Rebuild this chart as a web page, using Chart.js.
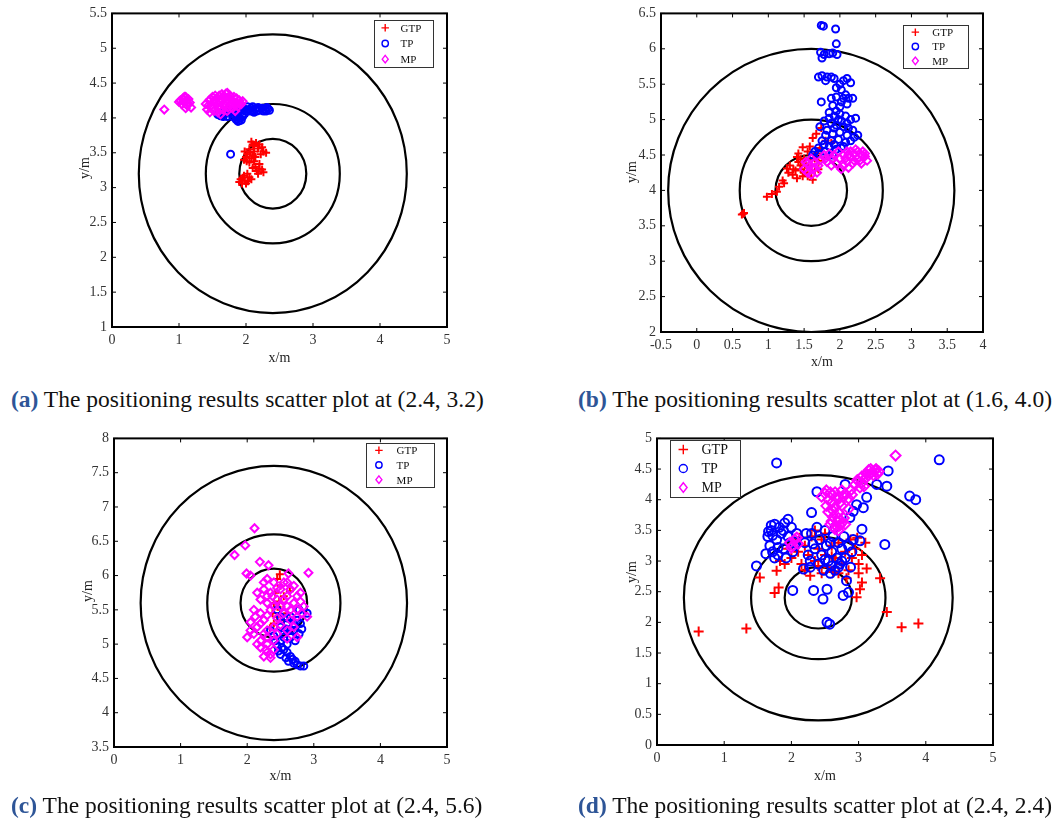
<!DOCTYPE html>
<html>
<head>
<meta charset="utf-8">
<script src="https://cdn.jsdelivr.net/npm/chart.js@4.4.1/dist/chart.umd.min.js"></script>
<style>
body{margin:0;background:#fff;width:1056px;height:830px;position:relative;overflow:hidden;font-family:"Liberation Serif",serif}
canvas{position:absolute}
.cap{position:absolute;font-size:23.5px;color:#111;white-space:nowrap;line-height:28px}
.cap b{color:#2e5597}
</style>
</head>
<body>
<canvas id="pa" width="420" height="375" style="left:40px;top:0px"></canvas>
<canvas id="pb" width="420" height="375" style="left:590px;top:0px"></canvas>
<canvas id="pc" width="420" height="370" style="left:40px;top:425px"></canvas>
<canvas id="pd" width="420" height="370" style="left:590px;top:425px"></canvas>
<div class="cap" style="left:11px;top:385px"><b>(a)</b> The positioning results scatter plot at (2.4, 3.2)</div>
<div class="cap" style="left:578px;top:385px"><b>(b)</b> The positioning results scatter plot at (1.6, 4.0)</div>
<div class="cap" style="left:11px;top:791px"><b>(c)</b> The positioning results scatter plot at (2.4, 5.6)</div>
<div class="cap" style="left:578px;top:791px"><b>(d)</b> The positioning results scatter plot at (2.4, 2.4)</div>
<script>
// ring radii round each test point (m)
const radii = [0.5, 1, 2];

// (a) test point (2.4, 3.2)
const aGTP = [[2.08,3.66],[2.15,3.64],[2.2,3.62],[2.12,3.6],[2.24,3.58],[2.05,3.55],[1.98,3.52],[2.02,3.48],[2.26,3.52],[2.3,3.5],
  [2.22,3.48],[2.0,3.44],[2.08,3.42],[1.97,3.4],[2.12,3.38],[2.05,3.36],[2.14,3.3],[2.2,3.27],[2.16,3.24],[2.24,3.26],
  [2.02,3.2],[1.97,3.17],[2.05,3.15],[1.92,3.12],[1.98,3.1],[1.9,3.08],[2.03,3.09],[1.94,3.06],[2.18,3.2],[2.1,3.46],
  [2.1,3.62],[2.18,3.56],[2.06,3.5],[2.14,3.44],[2.01,3.38],[2.2,3.34],[2.1,3.28],[2.26,3.22],[1.95,3.14],[2.0,3.06],
  [2.08,3.12],[2.12,3.52]];
const aTP = [[1.58,4.05],[1.62,4.03],[1.68,4.06],[1.72,4.02],[1.78,4.08],[1.82,4.05],[1.85,3.98],[1.88,3.95],[1.9,4.0],[1.93,3.97],
  [1.95,4.02],[1.98,4.06],[2.0,4.1],[2.04,4.12],[2.08,4.14],[2.1,4.1],[2.14,4.13],[2.18,4.15],[2.2,4.11],[2.24,4.14],
  [2.28,4.12],[2.33,4.13],[1.96,4.14],[2.02,4.16],[1.86,4.1],[1.75,4.12],[2.12,4.08],[1.92,4.08],[2.16,4.1],[2.3,4.1],
  [1.6,4.07],[1.66,4.02],[1.7,4.08],[1.8,4.02],[1.84,4.07],[1.9,3.96],[1.94,4.04],[1.98,4.12],[2.06,4.1],[2.1,4.16],
  [2.2,4.14],[2.26,4.1],[2.31,4.15],[2.35,4.11],[1.88,4.02],[1.77,3.48]];
const aMP = [[0.78,4.12],[1.02,4.25],[1.06,4.28],[1.1,4.3],[1.14,4.27],[1.08,4.22],[1.04,4.2],[1.12,4.18],[1.16,4.22],[1.18,4.15],
  [1.1,4.14],[1.06,4.26],[1.4,4.2],[1.42,4.12],[1.45,4.25],[1.48,4.18],[1.5,4.3],[1.52,4.1],[1.55,4.22],[1.58,4.15],
  [1.6,4.32],[1.62,4.05],[1.65,4.25],[1.68,4.18],[1.7,4.35],[1.72,4.1],[1.75,4.28],[1.78,4.2],[1.8,4.14],[1.82,4.3],
  [1.85,4.22],[1.88,4.16],[1.9,4.25],[1.93,4.2],[1.62,4.22],[1.56,4.28],[1.66,4.12],[1.74,4.24],[1.46,4.08],[1.84,4.1],
  [1.69,4.3],[1.0,4.23],[1.08,4.3],[1.14,4.2],[1.44,4.18],[1.47,4.27],[1.5,4.15],[1.53,4.25],[1.57,4.2],[1.6,4.12],
  [1.63,4.28],[1.67,4.2],[1.7,4.24],[1.73,4.15],[1.76,4.32],[1.79,4.25],[1.83,4.18],[1.86,4.28],[1.9,4.2],[1.95,4.24],
  [1.72,4.36],[1.64,4.34],[1.58,4.08],[1.54,4.32]];

// (b) test point (1.6, 4.0)
const bGTP = [[0.65,3.67],[0.66,3.68],[0.63,3.66],[0.98,3.91],[1.05,3.95],[1.12,3.98],[1.15,4.05],[1.2,4.14],[1.22,4.1],[1.26,4.31],
  [1.28,4.25],[1.35,4.3],[1.4,4.47],[1.45,4.44],[1.48,4.61],[1.55,4.55],[1.62,4.74],[1.67,4.8],[1.74,4.88],[1.88,4.67],
  [1.34,4.22],[1.4,4.17],[1.45,4.3],[1.5,4.25],[1.55,4.2],[1.6,4.35],[1.65,4.28],[1.7,4.42],[1.58,4.45],[1.52,4.38],
  [1.48,4.2],[1.68,4.52],[1.72,4.6],[1.8,4.7],[1.42,4.4],[1.62,4.15],[1.45,4.35],[1.5,4.45],[1.55,4.32],[1.6,4.25],
  [1.65,4.45],[1.7,4.3],[1.38,4.28],[1.42,4.52],[1.58,4.62],[1.3,4.35]];
const bTP = [[1.74,6.33],[1.77,6.32],[1.94,6.28],[1.95,6.07],[1.73,5.95],[1.78,5.92],[1.85,5.93],[1.9,5.94],[1.96,5.92],[1.75,5.87],
  [1.7,5.6],[1.75,5.62],[1.82,5.6],[1.88,5.6],[1.92,5.58],[2.05,5.55],[2.15,5.52],[1.95,5.45],[2.02,5.42],[1.74,5.25],
  [1.88,5.3],[1.95,5.32],[2.05,5.3],[2.12,5.3],[1.9,5.2],[2.0,5.18],[2.1,5.22],[1.85,5.1],[1.92,5.05],[2.0,5.08],
  [2.08,5.05],[2.15,5.0],[2.22,5.02],[1.78,4.98],[1.88,4.95],[1.95,4.92],[2.05,4.9],[2.12,4.88],[1.72,4.9],[1.82,4.85],
  [1.9,4.8],[2.0,4.82],[2.1,4.78],[2.2,4.75],[1.98,4.72],[2.08,4.68],[1.75,4.7],[1.85,4.62],[1.7,4.6],[1.65,4.55],
  [1.95,4.58],[2.02,4.6],[2.25,4.78],[1.78,4.65],[1.88,4.7],[1.92,4.88],[2.02,4.98],[2.1,4.95],[2.18,4.85],[1.8,4.78],
  [1.98,5.0],[2.15,4.7],[2.05,4.62],[1.92,4.65],[1.85,5.02],[1.95,5.12],[2.02,5.25],[2.08,5.35],[2.18,5.3],[1.62,4.5],
  [1.7,4.52],[1.8,4.55],[1.9,4.5],[2.0,5.5],[1.8,5.55],[2.1,5.58]];
const bMP = [[1.5,4.3],[1.55,4.38],[1.6,4.45],[1.62,4.3],[1.65,4.4],[1.68,4.25],[1.58,4.35],[1.7,4.35],[1.55,4.25],[1.78,4.5],
  [1.82,4.4],[1.85,4.52],[1.9,4.45],[1.95,4.38],[1.88,4.35],[2.0,4.45],[2.05,4.5],[2.1,4.55],[2.15,4.48],[2.2,4.52],
  [2.25,4.45],[2.3,4.5],[2.35,4.48],[2.05,4.35],[2.1,4.4],[2.18,4.38],[2.28,4.42],[2.02,4.3],[2.12,4.32],[2.32,4.55],
  [2.38,4.42],[2.22,4.58],[1.52,4.4],[1.6,4.22],[1.72,4.42],[1.8,4.45],[1.92,4.5],[1.98,4.55],[2.08,4.45],[2.15,4.55],
  [2.25,4.55],[2.3,4.38],[2.35,4.52],[2.2,4.42],[2.12,4.5],[1.65,4.32]];

// (c) test point (2.4, 5.6)
const cGTP = [[2.49,6.02],[2.45,5.95],[2.5,5.85],[2.42,5.75],[2.55,5.7],[2.64,5.77],[2.4,5.6],[2.5,5.5],[2.45,5.4],[2.55,5.35],
  [2.34,5.23],[2.4,5.3],[2.6,5.45],[2.48,5.62],[2.38,5.45]];
const cTP = [[2.45,5.5],[2.55,5.45],[2.65,5.4],[2.75,5.35],[2.6,5.3],[2.5,5.25],[2.7,5.2],[2.82,5.22],[2.55,5.15],[2.65,5.1],
  [2.4,5.12],[2.5,5.05],[2.6,5.0],[2.45,4.98],[2.55,4.92],[2.5,4.85],[2.58,4.8],[2.62,4.75],[2.7,4.72],[2.75,4.7],
  [2.8,4.68],[2.85,4.68],[2.35,5.2],[2.72,5.05],[2.9,5.45],[2.78,5.5],[2.5,5.4],[2.6,5.38],[2.7,5.3],[2.8,5.3],
  [2.65,5.2],[2.55,5.1],[2.6,4.88],[2.52,4.95],[2.65,4.82],[2.68,4.78],[2.72,4.75],[2.42,5.05],[2.47,4.9],[2.58,5.22],
  [2.78,5.15]];
const cMP = [[2.11,6.69],[1.97,6.44],[1.81,6.3],[2.19,6.2],[2.32,6.15],[2.92,6.04],[1.99,6.03],[2.62,6.03],[2.05,6.0],[2.3,5.95],
  [2.4,5.9],[2.55,5.9],[2.7,5.85],[2.8,5.75],[2.25,5.8],[2.35,5.75],[2.5,5.8],[2.6,5.7],[2.2,5.65],[2.3,5.6],
  [2.45,5.65],[2.7,5.6],[2.85,5.55],[2.1,5.5],[2.2,5.45],[2.35,5.5],[2.5,5.55],[2.6,5.55],[2.75,5.5],[2.82,5.45],
  [2.25,5.35],[2.45,5.38],[2.65,5.35],[2.15,5.25],[2.3,5.2],[2.5,5.28],[2.7,5.25],[2.1,5.15],[2.2,5.05],[2.3,5.1],
  [2.6,5.08],[2.75,5.1],[2.2,4.95],[2.3,4.88],[2.4,4.92],[2.25,4.82],[2.35,4.85],[2.0,5.1],[2.05,5.2],[2.6,5.9],
  [2.38,5.7],[2.9,5.4],[2.15,5.75],[2.25,5.9],[2.45,5.82],[2.65,5.8],[2.75,5.7],[2.3,5.7],[2.55,5.65],[2.4,5.55],
  [2.65,5.5],[2.3,5.42],[2.55,5.45],[2.75,5.4],[2.2,5.3],[2.4,5.25],[2.6,5.2],[2.25,5.15],[2.45,5.15],[2.15,5.0],
  [2.3,5.0],[2.4,5.05],[2.28,4.92],[2.35,4.8],[2.12,5.4],[2.8,5.62],[2.05,5.32]];

// (d) test point (2.4, 2.4)
const dGTP = [[0.62,1.85],[1.33,1.9],[3.64,1.92],[3.89,1.98],[3.42,2.17],[2.97,2.41],[3.02,2.54],[3.32,2.72],[3.05,2.65],[1.53,2.73],
  [1.81,2.57],[1.78,2.84],[1.83,3.0],[2.28,2.76],[1.75,2.48],[3.0,2.8],[2.82,2.72],[2.6,3.08],[1.95,3.2],[2.0,3.05],
  [2.05,3.3],[2.1,3.15],[2.15,2.95],[2.2,3.25],[2.25,3.1],[2.3,3.4],[2.35,3.0],[2.4,3.2],[2.45,3.35],[2.5,3.1],
  [2.55,2.9],[2.6,3.25],[2.65,3.05],[2.7,3.3],[2.75,2.95],[2.8,3.15],[2.85,2.85],[2.9,3.05],[2.95,3.2],[3.0,2.95],
  [3.05,3.1],[3.1,3.3],[2.2,2.85],[2.4,2.92],[2.5,3.45],[2.62,2.82],[2.88,3.35],[2.12,3.38],[1.9,2.95],[2.35,3.5],
  [3.12,2.88],[2.45,2.8],[2.7,2.8],[2.98,3.38]];
const dTP = [[1.78,4.6],[4.2,4.65],[3.44,4.47],[3.27,4.25],[3.42,4.22],[3.76,4.06],[3.85,4.0],[3.12,4.04],[2.8,4.25],[2.38,4.13],
  [2.3,3.79],[2.97,3.92],[3.07,3.87],[2.92,3.81],[2.87,3.71],[3.05,3.52],[3.39,3.27],[3.02,3.33],[1.48,2.92],[2.33,2.52],
  [2.53,2.54],[2.47,2.38],[2.77,2.44],[2.85,2.49],[2.82,2.68],[2.53,2.0],[2.57,1.97],[2.18,2.87],[2.28,2.9],[2.02,2.52],
  [1.65,3.4],[1.68,3.25],[1.7,3.5],[1.72,3.15],[1.75,3.6],[1.78,3.35],[1.8,3.1],[1.82,3.55],[1.85,3.45],[1.88,3.2],
  [1.9,3.62],[1.92,3.05],[1.95,3.4],[1.98,3.3],[2.0,3.55],[2.02,3.15],[2.05,3.25],[2.08,3.45],[1.7,3.58],[1.62,3.12],
  [1.66,3.48],[1.75,3.05],[1.95,3.68],[2.2,3.3],[2.25,3.1],[2.3,3.45],[2.35,3.2],[2.4,2.95],[2.42,3.35],[2.45,3.1],
  [2.5,3.5],[2.52,3.25],[2.55,3.0],[2.6,3.15],[2.62,3.4],[2.65,2.85],[2.68,3.05],[2.7,3.3],[2.72,2.95],[2.75,3.2],
  [2.78,3.4],[2.8,3.05],[2.85,3.25],[2.88,2.9],[2.9,3.15],[2.58,2.8],[2.48,2.85],[2.38,3.55],[2.28,3.0],[2.65,3.55],
  [2.22,3.45],[2.92,3.35],[2.6,2.92],[1.72,3.42],[1.8,3.22],[1.88,3.5],[2.32,3.28],[2.5,3.02],[2.58,3.3],[2.75,3.0],
  [2.7,2.9]];
const dMP = [[3.55,4.72],[2.95,4.25],[3.0,4.3],[3.05,4.28],[3.1,4.35],[3.15,4.4],[3.2,4.45],[3.25,4.48],[3.3,4.46],[3.18,4.5],
  [3.12,4.42],[3.02,4.2],[3.08,4.22],[3.28,4.42],[2.45,4.05],[2.5,4.1],[2.55,4.0],[2.6,4.08],[2.65,4.12],[2.7,4.05],
  [2.75,4.15],[2.8,4.1],[2.85,4.02],[2.9,4.08],[2.52,4.15],[2.6,3.95],[2.65,3.88],[2.7,3.8],[2.75,3.9],[2.62,3.72],
  [2.68,3.65],[2.72,3.58],[2.78,3.7],[2.58,3.6],[2.65,3.52],[2.8,3.6],[2.7,3.5],[2.85,3.85],[2.55,3.8],[1.98,3.3],
  [2.02,3.25],[2.05,3.35],[2.1,3.28],[2.08,3.38],[2.0,3.22],[2.98,4.32],[3.05,4.38],[3.22,4.4],[3.15,4.48],[3.26,4.5],
  [2.58,4.12],[2.68,4.02],[2.78,4.05],[2.72,3.95],[2.62,3.82],[2.7,3.7],[2.6,3.65],[2.75,3.62],[2.66,3.58],[2.52,3.9],
  [2.88,4.15]];

const legendNames = ['GTP', 'TP', 'MP'];

const panels = [
  {id:'pa', left:40, top:0, w:420, h:375, area:[112,10,447,327], x:[0,5,1], y:[1,5.5,0.5], center:[2.4,3.2],
   gtp:aGTP, tp:aTP, mp:aMP, legend:[374,20,433,67], lf:11, ms:3.5, tOff:[27,31], yTitleY:168},
  {id:'pb', left:590, top:0, w:420, h:375, area:[661,13,983,332], x:[-0.5,4,0.5], y:[2,6.5,0.5], center:[1.6,4.0],
   gtp:bGTP, tp:bTP, mp:bMP, legend:[903,25,968,68], lf:11, ms:3.5, tOff:[29,30], yTitleY:172},
  {id:'pc', left:40, top:425, w:420, h:370, area:[114,435,447,747], x:[0,5,1], y:[3.5,8,0.5], center:[2.4,5.6],
   gtp:cGTP, tp:cTP, mp:cMP, legend:[366,443,434,487], lf:11, ms:3.5, tOff:[26,29], yTitleY:591},
  {id:'pd', left:590, top:425, w:420, h:370, area:[657,436,993,745], x:[0,5,1], y:[0,5,0.5], center:[2.4,2.4],
   gtp:dGTP, tp:dTP, mp:dMP, legend:[670,440,740,497], lf:14, ms:4.5, tOff:[25,31], yTitleY:572}
];

function toPts(arr) {
  return arr.map(p => ({x: p[0], y: p[1]}));
}

function line(ctx, x1, y1, x2, y2) {
  ctx.beginPath(); ctx.moveTo(x1, y1); ctx.lineTo(x2, y2); ctx.stroke();
}

function marker(ctx, kind, x, y, r) {
  ctx.beginPath();
  if (kind === 0) {
    ctx.strokeStyle = '#ff0000';
    ctx.moveTo(x - r, y); ctx.lineTo(x + r, y); ctx.moveTo(x, y - r); ctx.lineTo(x, y + r);
  } else if (kind === 1) {
    ctx.strokeStyle = '#0000ff';
    ctx.arc(x, y, r * 0.85, 0, Math.PI * 2);
  } else {
    ctx.strokeStyle = '#ff00ff';
    ctx.moveTo(x, y - r); ctx.lineTo(x + r * 0.8, y); ctx.lineTo(x, y + r); ctx.lineTo(x - r * 0.8, y); ctx.closePath();
  }
  ctx.stroke();
}

// 1, 1.5, 2 ... without trailing zeros
function tickText(v) {
  return String(Math.round(v * 100) / 100);
}

panels.forEach(p => {
  const [L, T, R, B] = p.area;
  const tickFont = {family: '"Liberation Serif", serif', size: 14};

  const panelPlugin = {
    id: 'panel_' + p.id,
    beforeDatasetsDraw(chart) {
      const {ctx, chartArea: a, scales: {x, y}} = chart;
      ctx.save();
      ctx.beginPath();
      ctx.rect(a.left, a.top, a.right - a.left, a.bottom - a.top);
      ctx.clip();
      ctx.strokeStyle = '#000';
      ctx.lineWidth = 2.2;
      const cx = x.getPixelForValue(p.center[0]);
      const cy = y.getPixelForValue(p.center[1]);
      radii.forEach(r => {
        const rx = Math.abs(x.getPixelForValue(p.center[0] + r) - cx);
        const ry = Math.abs(y.getPixelForValue(p.center[1] + r) - cy);
        ctx.beginPath();
        ctx.ellipse(cx, cy, rx, ry, 0, 0, Math.PI * 2);
        ctx.stroke();
      });
      ctx.restore();
    },
    afterDraw(chart) {
      const {ctx, chartArea: a, scales: {x, y}} = chart;
      ctx.save();
      // frame
      ctx.strokeStyle = '#000';
      ctx.lineWidth = 2;
      ctx.strokeRect(a.left, a.top, a.right - a.left, a.bottom - a.top);
      // inward ticks
      ctx.lineWidth = 1;
      x.ticks.forEach(t => {
        const px = x.getPixelForValue(t.value);
        line(ctx, px, a.bottom, px, a.bottom - 4);
        line(ctx, px, a.top, px, a.top + 4);
      });
      y.ticks.forEach(t => {
        const py = y.getPixelForValue(t.value);
        line(ctx, a.left, py, a.left + 4, py);
        line(ctx, a.right, py, a.right - 4, py);
      });
      // axis titles
      ctx.fillStyle = '#222';
      ctx.font = '14px "Liberation Serif", serif';
      ctx.textAlign = 'center';
      ctx.textBaseline = 'middle';
      ctx.fillText('x/m', (a.left + a.right) / 2, a.bottom + p.tOff[1]);
      ctx.save();
      ctx.translate(a.left - p.tOff[0], p.yTitleY - p.top);
      ctx.rotate(-Math.PI / 2);
      ctx.fillText('y/m', 0, 0);
      ctx.restore();
      // legend box
      const bx = p.legend[0] - p.left, by = p.legend[1] - p.top;
      const bw = p.legend[2] - p.legend[0], bh = p.legend[3] - p.legend[1];
      ctx.fillStyle = '#fff';
      ctx.fillRect(bx, by, bw, bh);
      ctx.strokeStyle = '#333';
      ctx.lineWidth = 1;
      ctx.strokeRect(bx + 0.5, by + 0.5, bw, bh);
      ctx.font = p.lf + 'px "Liberation Serif", serif';
      ctx.textAlign = 'left';
      const rowH = bh / 3;
      legendNames.forEach((name, i) => {
        const ry = by + rowH * (i + 0.5);
        ctx.lineWidth = 1.4;
        marker(ctx, i, bx + bw * 0.19, ry, p.lf * 0.34);
        ctx.fillStyle = '#111';
        ctx.fillText(name, bx + bw * 0.45, ry + 1);
      });
      ctx.restore();
    }
  };

  new Chart(document.getElementById(p.id), {
    type: 'scatter',
    data: {
      datasets: [
        {label: 'GTP', data: toPts(p.gtp), pointStyle: 'cross', pointRadius: p.ms + 0.5,
         borderColor: '#ff0000', backgroundColor: '#ff0000', borderWidth: 2, order: 3},
        {label: 'TP', data: toPts(p.tp), pointStyle: 'circle', pointRadius: p.ms,
         borderColor: '#0000ff', backgroundColor: 'rgba(0,0,0,0)', borderWidth: 2, order: 2},
        {label: 'MP', data: toPts(p.mp), pointStyle: 'rectRot', pointRadius: p.ms + 0.5,
         borderColor: '#ff00ff', backgroundColor: 'rgba(0,0,0,0)', borderWidth: 2, order: 1}
      ]
    },
    options: {
      responsive: false,
      animation: false,
      devicePixelRatio: 1,
      layout: {padding: {left: 0, top: T - p.top, right: p.left + p.w - R, bottom: 0}},
      plugins: {legend: {display: false}, tooltip: {enabled: false}},
      scales: {
        x: {
          type: 'linear', min: p.x[0], max: p.x[1],
          ticks: {stepSize: p.x[2], padding: 5, font: tickFont, color: '#333', maxRotation: 0, callback: tickText},
          grid: {display: false, drawTicks: false}, border: {display: false},
          afterFit: s => { s.height = p.top + p.h - B; }
        },
        y: {
          type: 'linear', min: p.y[0], max: p.y[1],
          ticks: {stepSize: p.y[2], padding: 5, font: tickFont, color: '#333', callback: tickText},
          grid: {display: false, drawTicks: false}, border: {display: false},
          afterFit: s => { s.width = L - p.left; }
        }
      }
    },
    plugins: [panelPlugin]
  });
});
</script>
</body>
</html>
